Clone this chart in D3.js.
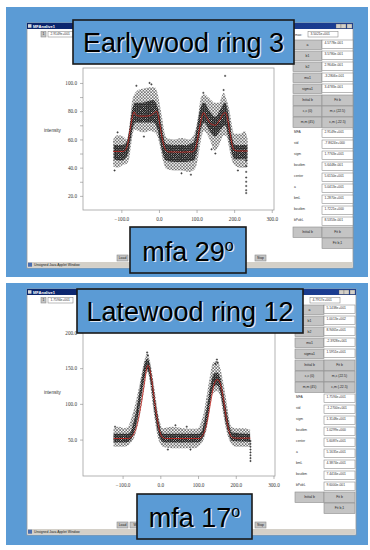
<!DOCTYPE html>
<html>
<head>
<meta charset="utf-8">
<script src="https://cdn.jsdelivr.net/npm/d3@7"></script>
<style>
  body { margin: 0; background: #fff; }
  svg { display: block; font-family: "Liberation Sans", Arial, sans-serif; }
</style>
</head>
<body>
<div id="chart"></div>
<script>
// ---- values ----
const xTicks = [-100, 0, 100, 200, 300];
const earlyYTicks = [20, 30, 40, 50, 60, 70, 80, 90, 100];
const earlyYLabels = [20, 40, 60, 80, 100];
const lateYTicks = [50, 100, 150, 200];
const lateYLabels = [50, 100, 150, 200];

// scatter cloud envelopes: [x, low, high]
const earlyOuter = [[-122,41,60],[-110,40,63],[-95,42,62],[-85,43,60],[-78,48,70],[-72,60,86],[-65,67,92],[-55,66,95],
  [-40,65,96],[-25,66,97],[-12,65,97],[-4,62,93],[2,56,85],[8,48,76],[14,42,66],[20,39,61],[40,38,60],[60,38,61],
  [80,37,60],[92,38,63],[100,42,70],[106,50,80],[112,60,90],[120,66,92],[135,60,89],[148,52,86],[160,56,86],
  [172,63,93],[180,62,88],[188,52,80],[194,45,70],[200,42,64],[215,40,64],[228,40,66],[236,41,60]];
const earlyCore = [[-120,46,56],[-100,45,56],[-88,47,57],[-80,52,65],[-72,65,80],[-62,72,86],[-45,72,86],[-30,72,87],
  [-15,72,88],[-5,68,84],[2,60,77],[10,50,65],[18,45,57],[40,44,56],[70,44,56],[92,45,58],[102,52,70],[110,65,82],
  [120,72,86],[135,66,80],[150,62,76],[165,67,82],[176,70,86],[186,60,76],[194,50,62],[202,46,56],[220,46,56],[235,46,56]];
const earlyFit = [[-122,51.5],[-95,51.5],[-88,53],[-82,58],[-76,68],[-70,77],[-66,79.5],[-60,77],[-50,76.5],[-35,76.5],
  [-22,77],[-12,79],[-6,80],[-2,77],[4,68],[10,59],[16,53.5],[24,51.2],[60,51],[88,51.2],[96,53],[102,59],[108,68],
  [114,76],[119,79],[126,76],[138,71],[150,70],[162,74],[172,78.5],[177,79],[182,75],[188,66],[194,57],[200,52.5],
  [210,51.8],[236,51.8]];
const earlyStray = [[176,105],[232,45],[232,41],[232,37],[232,33],[232,30],[232,27],[232,24],[232,22],[-40,62],
  [-60,98],[-20,99],[-25,100],[118,93],[172,95],[-118,38],[60,36],[85,35],[150,50],[140,53],[-110,65],[210,38]];

const lateOuter = [[-124,40,66],[-110,40,68],[-95,40,66],[-85,42,68],[-78,46,78],[-70,52,92],[-62,65,110],[-54,85,130],
  [-46,110,152],[-40,130,165],[-35,145,171],[-30,138,166],[-24,115,150],[-18,90,130],[-12,68,108],[-6,52,86],[0,44,72],
  [6,40,66],[30,38,68],[60,38,66],[90,38,65],[100,40,66],[108,44,74],[116,52,90],[124,68,115],[132,95,140],[140,115,158],
  [150,118,160],[158,112,152],[166,88,132],[174,65,108],[182,50,80],[188,44,68],[200,40,66],[220,40,66],[238,40,64]];
const lateCore = [[-124,46,58],[-90,46,58],[-80,48,60],[-72,56,72],[-64,70,90],[-56,92,115],[-48,118,140],[-41,138,158],
  [-35,148,163],[-29,140,158],[-23,120,140],[-17,95,118],[-11,74,96],[-5,58,78],[2,49,62],[10,46,58],[100,46,58],
  [110,50,62],[118,60,80],[126,80,104],[134,108,128],[142,124,142],[150,126,144],[158,118,138],[166,96,118],
  [174,72,94],[182,56,72],[190,48,60],[238,47,58]];
const lateFit = [[-124,51.5],[-85,51.5],[-78,53],[-70,58],[-62,70],[-54,90],[-46,115],[-40,137],[-36,150],[-33,154],
  [-30,152],[-24,138],[-18,115],[-12,92],[-6,72],[0,59],[6,53],[14,51.5],[104,51.5],[110,54],[118,62],[126,80],
  [134,104],[140,122],[146,132],[150,134],[156,132],[162,122],[168,104],[174,83],[180,66],[186,56],[192,52.5],
  [200,52],[239,52]];
const lateStray = [[239,48],[239,44],[239,40],[239,36],[239,32],[239,28],[239,24],[239,20],[-35,172],[-33,168],
  [150,162],[152,158],[146,156],[40,70],[70,68],[-120,68],[20,36],[80,36]];

// right-hand control panel
const paramNames = ["a", "b1", "b2", "mu1", "sigma1"];
const buttonRows = [["Initial b", "Fit b"], ["c,c (0)", "m,c (22.5)"], ["m,m (45)", "c,m (-22.5)"]];
const resultNames = ["MFA", "std", "sigm", "boutbm", "center", "a", "bmL", "boutbm", "bPobL"];
const earlyParams = ["4.5778e-001", "3.5780e-001", "2.9640e-001", "-3.2806e-001", "3.4783e-001"];
const earlyResults = ["2.9149e+001", "-7.8624e+000", "1.7763e+001", "5.6448e-001", "5.6150e+001",
  "5.0413e+001", "1.2870e+001", "1.7221e+000", "8.5353e-001"];
const lateParams = ["5.1438e+001", "1.0013e+002", "8.9465e+001", "-2.3928e+001", "1.5951e+001"];
const lateResults = ["1.7594e+001", "-1.2700e+001", "1.3148e+001", "1.0299e+000", "5.6087e+001",
  "5.1635e+001", "4.3874e+001", "7.4416e+001", "9.6000e-001"];

const panels = [
  { bg: [6, 7, 362, 270], win: [27, 23, 326, 245], plot: [83, 68, 191, 142], xDom: [-202, 306], yDom: [10, 110.6],
    yTicks: earlyYTicks, yLabels: earlyYLabels, outer: earlyOuter, core: earlyCore, fit: earlyFit, stray: earlyStray,
    topVal: "2.9149e+001", masVal: "3.5021e+001", showMas: true, params: earlyParams, results: earlyResults, side: [293, 40],
    title: "Earlywood ring 3", titleBox: [73, 20, 221, 44], mfa: "mfa 29", mfaBox: [130, 227, 116, 46] },
  { bg: [6, 283, 362, 262], win: [27, 289, 329, 246], plot: [83, 326, 192, 150], xDom: [-205, 304], yDom: [-1, 209],
    yTicks: lateYTicks, yLabels: lateYLabels, outer: lateOuter, core: lateCore, fit: lateFit, stray: lateStray,
    topVal: "1.7594e+001", masVal: "4.7917e+001", showMas: false, params: lateParams, results: lateResults, side: [295, 305],
    title: "Latewood ring 12", titleBox: [77, 289, 226, 44], mfa: "mfa 17", mfaBox: [137, 494, 115, 45] }
];

const W = 370, H = 550;
const svg = d3.select("#chart").append("svg").attr("width", W).attr("height", H);
const defs = svg.append("defs");

// staggered "+" marker patterns for the dense scatter clouds
function plusPattern(id, size, arm, width) {
  const p = defs.append("pattern").attr("id", id).attr("patternUnits", "userSpaceOnUse")
    .attr("width", size).attr("height", size);
  const q = size / 4, h = 3 * size / 4;
  const plus = (cx, cy) => `M${cx - arm},${cy}H${cx + arm}M${cx},${cy - arm}V${cy + arm}`;
  p.append("path").attr("d", plus(q, q) + plus(h, h)).attr("stroke", "#000").attr("stroke-width", width);
}
plusPattern("sparse", 3.1, 0.9, 0.5);
plusPattern("dense", 2.2, 0.9, 0.7);

const grad = defs.append("linearGradient").attr("id", "titlebar");
grad.append("stop").attr("offset", "0%").attr("stop-color", "#0a246a");
grad.append("stop").attr("offset", "100%").attr("stop-color", "#1c3f94");

function button(g, x, y, w, h, label) {
  g.append("rect").attr("x", x).attr("y", y).attr("width", w).attr("height", h)
    .attr("fill", "#c4c4c4").attr("stroke", "#8c8c8c").attr("stroke-width", 0.6);
  g.append("text").attr("x", x + w / 2).attr("y", y + h / 2 + 1.2).attr("text-anchor", "middle")
    .attr("font-size", 3.4).attr("fill", "#222").text(label);
}
function field(g, x, y, w, h, value) {
  g.append("rect").attr("x", x).attr("y", y).attr("width", w).attr("height", h)
    .attr("fill", "#fff").attr("stroke", "#777").attr("stroke-width", 0.5);
  g.append("text").attr("x", x + 2.5).attr("y", y + 3.6).attr("font-size", 3.3).attr("fill", "#333").text(value);
}

panels.forEach(p => {
  const g = svg.append("g");
  const [bx, by, bw, bh] = p.bg;
  g.append("rect").attr("x", bx).attr("y", by).attr("width", bw).attr("height", bh).attr("fill", "#5b9bd5");

  // applet window
  const [wx, wy, ww, wh] = p.win;
  g.append("rect").attr("x", wx).attr("y", wy).attr("width", ww).attr("height", wh)
    .attr("fill", "#fff").attr("stroke", "#9a9a9a").attr("stroke-width", 0.8);
  g.append("rect").attr("x", wx).attr("y", wy).attr("width", ww).attr("height", 6).attr("fill", "url(#titlebar)");
  g.append("rect").attr("x", wx + 1).attr("y", wy + 1.2).attr("width", 3.5).attr("height", 3.5).attr("fill", "#d8d8d8");
  g.append("text").attr("x", wx + 6).attr("y", wy + 4.6).attr("font-size", 4).attr("font-weight", "bold")
    .attr("fill", "#fff").text("MFAnalive1");
  [17, 12, 6].forEach(o => g.append("rect").attr("x", wx + ww - o).attr("y", wy + 1).attr("width", 5)
    .attr("height", 4.2).attr("fill", "#d4d0c8").attr("stroke", "#555").attr("stroke-width", 0.3));

  // top row controls
  button(g, wx + 14, wy + 8.5, 5, 5.5, "1");
  field(g, wx + 21, wy + 8.5, 25, 5.5, p.topVal);
  if (p.showMas) g.append("text").attr("x", p.side[0] + 2).attr("y", wy + 12.5).attr("font-size", 3.3)
    .attr("fill", "#333").text("mas:");
  field(g, p.side[0] + 15, wy + 8.5, 30, 5.5, p.masVal);

  // side panel
  const [sx, sy] = p.side, rh = 11, sbw = 29, sfw = 31;
  p.params.forEach((v, i) => {
    button(g, sx, sy + i * rh, sbw, rh - 1.5, paramNames[i]);
    field(g, sx + sbw, sy + i * rh, sfw, rh - 2.5, v);
  });
  buttonRows.forEach((pair, i) => {
    const y = sy + (5 + i) * rh;
    button(g, sx, y, sbw, rh - 0.5, pair[0]);
    button(g, sx + sbw, y, sfw, rh - 0.5, pair[1]);
  });
  p.results.forEach((v, i) => {
    const y = sy + (8 + i) * rh;
    g.append("text").attr("x", sx + 1).attr("y", y + 5).attr("font-size", 3.3).attr("fill", "#333").text(resultNames[i]);
    field(g, sx + sbw, y + 1, sfw, rh - 2.5, v);
  });
  button(g, sx, sy + 17 * rh, sbw, rh - 0.5, "Initial b");
  button(g, sx + sbw, sy + 17 * rh, sfw, rh - 0.5, "Fit b");
  button(g, sx + sbw, sy + 18 * rh, sfw, rh - 0.5, "Fit b,1");

  // bottom buttons and status bar
  const byb = wy + wh - 13;
  [["Load", 90, 11], ["W", 103, 10], ["Fixed", 209, 10], ["Stop", 228, 11]].forEach(([t, dx, w]) =>
    button(g, wx + dx, byb, w, 6, t));
  g.append("rect").attr("x", wx + 0.5).attr("y", wy + wh - 6).attr("width", ww - 1).attr("height", 5.5)
    .attr("fill", "#d4d0c8");
  g.append("rect").attr("x", wx + 1).attr("y", wy + wh - 5.3).attr("width", 4).attr("height", 4).attr("fill", "#4a6fb0");
  g.append("text").attr("x", wx + 7).attr("y", wy + wh - 2).attr("font-size", 3.4).attr("fill", "#222")
    .text("Unsigned Java Applet Window");

  // plot
  const [px, py, pw, ph] = p.plot;
  const x = d3.scaleLinear().domain(p.xDom).range([px, px + pw]);
  const y = d3.scaleLinear().domain(p.yDom).range([py + ph, py]);
  g.append("rect").attr("x", px).attr("y", py).attr("width", pw).attr("height", ph)
    .attr("fill", "none").attr("stroke", "#a0a0a0").attr("stroke-width", 0.8);

  const ax = g.append("g").attr("transform", `translate(0,${py + ph})`)
    .call(d3.axisBottom(x).tickValues(xTicks).tickSize(3).tickPadding(4).tickFormat(d3.format(".1f")));
  const ay = g.append("g").attr("transform", `translate(${px},0)`)
    .call(d3.axisLeft(y).tickValues(p.yTicks).tickSize(3).tickPadding(3)
      .tickFormat(d => p.yLabels.includes(d) ? d3.format(".1f")(d) : ""));
  [ax, ay].forEach(a => {
    a.select(".domain").remove();
    a.selectAll("line").attr("stroke", "#888").attr("stroke-width", 0.6);
    a.selectAll("text").attr("font-size", 5.2).attr("fill", "#333").attr("font-family", "Liberation Serif, serif");
  });
  g.append("text").attr("x", 44).attr("y", y(p.yDom[0] + (p.yDom[1] - p.yDom[0]) * 0.55))
    .attr("font-size", 4.6).attr("fill", "#333").text("intensity");

  const area = d3.area().curve(d3.curveMonotoneX)
    .x(d => x(d[0])).y0(d => y(d[1])).y1(d => y(d[2]));
  g.append("path").datum(p.outer).attr("d", area).attr("fill", "url(#sparse)");
  g.append("path").datum(p.core).attr("d", area).attr("fill", "url(#dense)");
  g.selectAll(null).data(p.stray).join("path")
    .attr("transform", d => `translate(${x(d[0])},${y(d[1])})`)
    .attr("d", "M-1.1,0H1.1M0,-1.1V1.1").attr("stroke", "#000").attr("stroke-width", 0.55);
  g.append("path").datum(p.fit)
    .attr("d", d3.line().curve(d3.curveMonotoneX).x(d => x(d[0])).y(d => y(d[1])))
    .attr("fill", "none").attr("stroke", "#d0201a").attr("stroke-width", 0.75);

  // caption boxes
  function caption(box, draw) {
    const [cx, cy, cw, chh] = box;
    g.append("rect").attr("x", cx).attr("y", cy).attr("width", cw).attr("height", chh)
      .attr("fill", "#5b9bd5").attr("stroke", "#1a1a1a").attr("stroke-width", 1.6);
    [["#dfe8f3", 1.3], ["#000", 0]].forEach(([fill, off]) => {
      const t = g.append("text").attr("x", cx + cw / 2 + off).attr("y", cy + chh * 0.73 + off)
        .attr("text-anchor", "middle").attr("font-size", 27).attr("fill", fill);
      draw(t);
    });
  }
  caption(p.titleBox, t => t.text(p.title));
  caption(p.mfaBox, t => {
    t.append("tspan").text(p.mfa);
    t.append("tspan").attr("font-size", 16).attr("dy", -10).text("o");
  });
});
</script>
</body>
</html>
